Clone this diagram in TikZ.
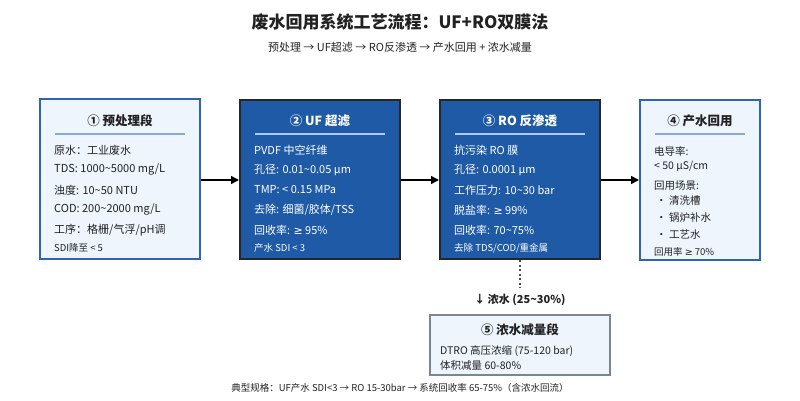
\documentclass[tikz,border=0pt]{standalone}
\usepackage{fontspec}
\setmainfont{Noto Sans CJK SC}
\newfontfamily\symf{DejaVu Sans}
\usetikzlibrary{arrows.meta}
\definecolor{lfill}{HTML}{EEF5FD}
\definecolor{lbord}{HTML}{2F64B0}
\definecolor{dfill}{HTML}{1F5AA6}
\definecolor{sepl}{HTML}{8AA9D6}
\definecolor{sepd}{HTML}{B3C9E8}
\definecolor{gbord}{HTML}{7A8694}
\definecolor{txt}{HTML}{222222}
\begin{document}
\begin{tikzpicture}[x=1pt,y=-1pt,
 lbox/.style={draw=lbord,line width=1.6pt,fill=lfill},
 dbox/.style={draw=black!85,line width=1.8pt,fill=dfill},
 hd/.style={font=\bfseries\fontsize{12.5}{14}\selectfont,anchor=center},
 tx/.style={font=\fontsize{11}{12}\selectfont,anchor=west,inner sep=0},
 sm/.style={font=\fontsize{9.5}{10}\selectfont,anchor=west,inner sep=0},
 md/.style={font=\fontsize{10.5}{11}\selectfont,anchor=west,inner sep=0},
 arr/.style={line width=1.5pt,-{Triangle[length=8pt,width=8pt]}}]
\useasboundingbox (0,0) rectangle (800,400);
\node[font=\bfseries\fontsize{17}{19}\selectfont,text=txt] (title) at (400,22) {废水回用系统工艺流程：UF+RO双膜法};
\node[font=\fontsize{11}{12}\selectfont,text=txt] (sub) at (400,47) {预处理 → UF超滤 → RO反渗透 → 产水回用 + 浓水减量};
% boxes
\draw[lbox] (40,99) rectangle (200,259);
\node[inner sep=0] (b1) at (120,179) {};
\draw[dbox] (240,100) rectangle (400,259);
\node[inner sep=0] (b2) at (320,179) {};
\draw[dbox] (440,100) rectangle (600,259);
\node[inner sep=0] (b3) at (520,179) {};
\draw[lbox] (640,100) rectangle (760,260);
\node[inner sep=0] (b4) at (700,180) {};
\draw[draw=gbord,line width=1.2pt,fill=lfill] (430,315) rectangle (610,375);
\node[inner sep=0] (b5) at (520,315) {};
% arrows
\coordinate (b1e) at (201,180); \coordinate (b2w) at (239,180);
\coordinate (b2e) at (401,180); \coordinate (b3w) at (439,180);
\coordinate (b3e) at (601,180); \coordinate (b4w) at (639,180);
\draw[arr] (b1e) -- (b2w);
\draw[arr] (b2e) -- (b3w);
\draw[arr] (b3e) -- (b4w);
\coordinate (b3s) at (520,260); \coordinate (dend) at (520,288);
\draw[line width=1.3pt,dash pattern=on 2pt off 2.5pt,black!70] (b3s) -- (dend);
\node[font=\bfseries\fontsize{11}{12}\selectfont,text=txt] (conc) at (520,300) {↓ 浓水 (25\textasciitilde30\%)};
% box1
\node[hd,text=txt] (h1) at (120,121) {① 预处理段};
\draw[sepl,line width=1.5pt] (55,134) -- (185,134);
\begin{scope}[every node/.append style={text=txt}]
\node[tx] (t11) at (54,150) {原水：工业废水};
\node[tx] (t12) at (54,170) {TDS: 1000\textasciitilde5000 mg/L};
\node[tx] (t13) at (54,190) {浊度: 10\textasciitilde50 NTU};
\node[tx] (t14) at (54,210) {COD: 200\textasciitilde2000 mg/L};
\node[tx] (t15) at (54,230) {工序：格栅/气浮/pH调};
\node[sm] (t16) at (54,248) {SDI降至 < 5};
\end{scope}
% box2
\begin{scope}[every node/.append style={text=white}]
\node[hd] (h2) at (320,121) {② UF 超滤};
\draw[sepd,line width=1.5pt] (255,134) -- (385,134);
\node[tx] (t21) at (254,150) {PVDF 中空纤维};
\node[tx] (t22) at (254,170) {孔径: 0.01\textasciitilde0.05 μm};
\node[tx] (t23) at (254,190) {TMP: < 0.15 MPa};
\node[tx] (t24) at (254,210) {去除: 细菌/胶体/TSS};
\node[tx] (t25) at (254,230) {回收率: {\symf ≥} 95\%};
\node[sm] (t26) at (254,248) {产水 SDI < 3};
% box3
\node[hd] (h3) at (520,121) {③ RO 反渗透};
\draw[sepd,line width=1.5pt] (455,134) -- (585,134);
\node[tx] (t31) at (454,150) {抗污染 RO 膜};
\node[tx] (t32) at (454,170) {孔径: 0.0001 μm};
\node[tx] (t33) at (454,190) {工作压力: 10\textasciitilde30 bar};
\node[tx] (t34) at (454,210) {脱盐率: {\symf ≥} 99\%};
\node[tx] (t35) at (454,230) {回收率: 70\textasciitilde75\%};
\node[sm] (t36) at (454,248) {去除 TDS/COD/重金属};
\end{scope}
% box4
\begin{scope}[every node/.append style={text=txt}]
\node[hd] (h4) at (700,121) {④ 产水回用};
\draw[sepl,line width=1.5pt] (655,134) -- (745,134);
\node[md] (t41) at (654,151) {电导率:};
\node[md] (t42) at (654,166) {< 50 μS/cm};
\node[md] (t43) at (654,186) {回用场景:};
\node[md] (t44) at (656,201) {・ 清洗槽};
\node[md] (t45) at (656,218) {・ 锅炉补水};
\node[md] (t46) at (656,235) {・ 工艺水};
\node[sm] (t47) at (654,252) {回用率 {\symf ≥} 70\%};
% box5
\node[hd] (h5) at (520,330) {⑤ 浓水减量段};
\node[md] (t51) at (440,351) {DTRO 高压浓缩 (75-120 bar)};
\node[md] (t52) at (440,366) {体积减量 60-80\%};
\node[font=\fontsize{9.5}{10}\selectfont] (foot) at (400,388) {典型规格：UF产水 SDI<3 → RO 15-30bar → 系统回收率 65-75\%（含浓水回流）};
\end{scope}
\end{tikzpicture}
\end{document}
